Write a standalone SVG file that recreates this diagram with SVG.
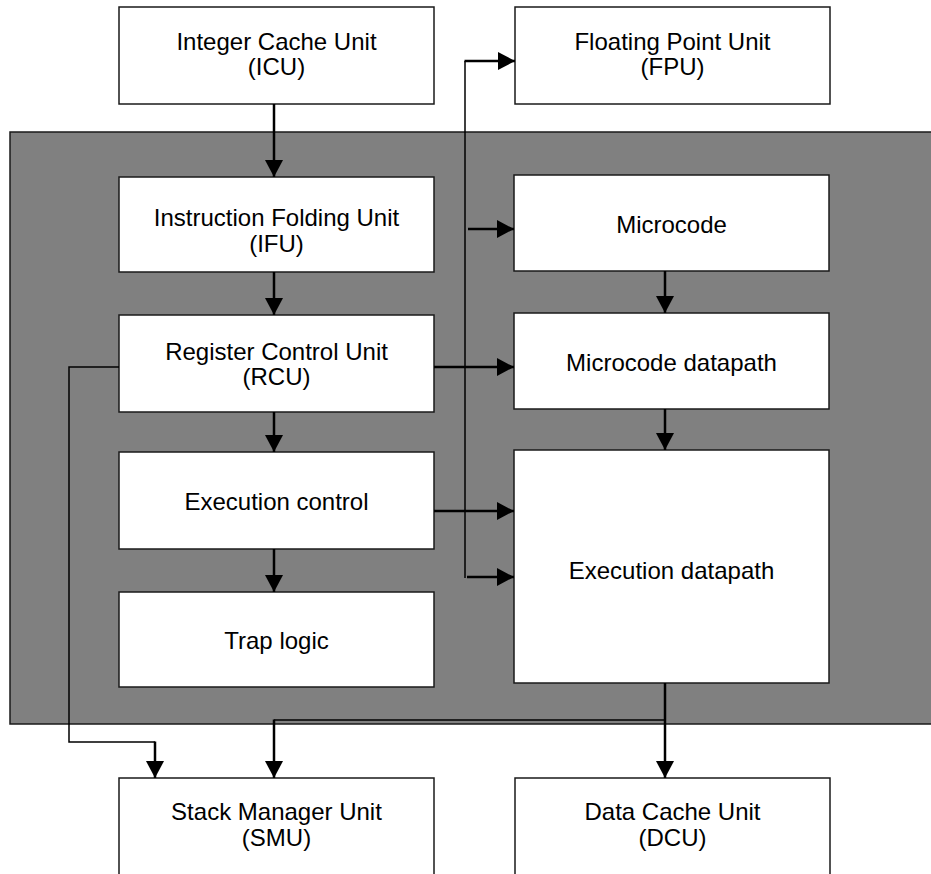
<svg xmlns="http://www.w3.org/2000/svg" width="931" height="874" viewBox="0 0 931 874">
  <style>
    .box { fill: #ffffff; stroke: #1a1a1a; stroke-width: 1.5; }
    .core { fill: #808080; stroke: #1a1a1a; stroke-width: 1.5; }
    .label { font-family: "Liberation Sans", Arial, sans-serif; font-size: 24px; fill: #000000; text-anchor: middle; }
    .thin { fill: none; stroke: #000000; stroke-width: 1.5; }
    .thick { fill: none; stroke: #000000; stroke-width: 2.5; }
  </style>
  <defs>
    <marker id="head" markerUnits="userSpaceOnUse" markerWidth="18" markerHeight="18" viewBox="0 0 17 18" refX="17" refY="9" orient="auto">
      <path d="M0,0 L17,9 L0,18 Z" fill="#000000"/>
    </marker>
  </defs>

  <!-- integer core area -->
  <rect id="core" class="core" x="10" y="132" width="930" height="592"/>

  <g id="icu">
    <rect class="box" x="119" y="7" width="315" height="97"/>
    <text class="label" x="276.5" y="50">Integer Cache Unit</text>
    <text class="label" x="276.5" y="75">(ICU)</text>
  </g>
  <g id="fpu">
    <rect class="box" x="515" y="7" width="315" height="97"/>
    <text class="label" x="672.5" y="50">Floating Point Unit</text>
    <text class="label" x="672.5" y="75">(FPU)</text>
  </g>
  <g id="ifu">
    <rect class="box" x="119" y="177" width="315" height="95"/>
    <text class="label" x="276.5" y="226">Instruction Folding Unit</text>
    <text class="label" x="276.5" y="252">(IFU)</text>
  </g>
  <g id="microcode">
    <rect class="box" x="514" y="175" width="315" height="96"/>
    <text class="label" x="671.5" y="233">Microcode</text>
  </g>
  <g id="rcu">
    <rect class="box" x="119" y="315" width="315" height="97"/>
    <text class="label" x="276.5" y="360">Register Control Unit</text>
    <text class="label" x="276.5" y="385">(RCU)</text>
  </g>
  <g id="microcode-datapath">
    <rect class="box" x="514" y="313" width="315" height="96"/>
    <text class="label" x="671.5" y="371">Microcode datapath</text>
  </g>
  <g id="execution-control">
    <rect class="box" x="119" y="452" width="315" height="97"/>
    <text class="label" x="276.5" y="510">Execution control</text>
  </g>
  <g id="execution-datapath">
    <rect class="box" x="514" y="450" width="315" height="233"/>
    <text class="label" x="671.5" y="579">Execution datapath</text>
  </g>
  <g id="trap-logic">
    <rect class="box" x="119" y="592" width="315" height="95"/>
    <text class="label" x="276.5" y="649">Trap logic</text>
  </g>
  <g id="smu">
    <rect class="box" x="119" y="778" width="315" height="110"/>
    <text class="label" x="276.5" y="820">Stack Manager Unit</text>
    <text class="label" x="276.5" y="846">(SMU)</text>
  </g>
  <g id="dcu">
    <rect class="box" x="515" y="778" width="315" height="110"/>
    <text class="label" x="672.5" y="820">Data Cache Unit</text>
    <text class="label" x="672.5" y="846">(DCU)</text>
  </g>

  <g id="connectors">
    <!-- left column pipeline -->
    <path class="thick" d="M274,104 V177" marker-end="url(#head)"/>
    <path class="thick" d="M274,272 V315" marker-end="url(#head)"/>
    <path class="thick" d="M274,412 V452" marker-end="url(#head)"/>
    <path class="thick" d="M274,549 V592" marker-end="url(#head)"/>
    <!-- right column pipeline -->
    <path class="thick" d="M665,271 V313" marker-end="url(#head)"/>
    <path class="thick" d="M665,409 V450" marker-end="url(#head)"/>
    <!-- cross links -->
    <path class="thick" d="M434,367 H514" marker-end="url(#head)"/>
    <path class="thick" d="M434,511 H514" marker-end="url(#head)"/>
    <!-- shared bus -->
    <path class="thin" d="M465,578 V61"/>
    <path class="thick" d="M464.5,61 H515" marker-end="url(#head)"/>
    <path class="thick" d="M468,229 H514" marker-end="url(#head)"/>
    <path class="thick" d="M467,577 H514" marker-end="url(#head)"/>
    <!-- RCU to SMU -->
    <path class="thin" d="M119,367 H69 V742 H155"/>
    <path class="thick" d="M155,741.5 V778" marker-end="url(#head)"/>
    <!-- execution datapath outputs -->
    <path class="thick" d="M665,683 V778" marker-end="url(#head)"/>
    <path class="thin" d="M665,720 H274"/>
    <path class="thick" d="M274,719.5 V778" marker-end="url(#head)"/>
  </g>
</svg>
